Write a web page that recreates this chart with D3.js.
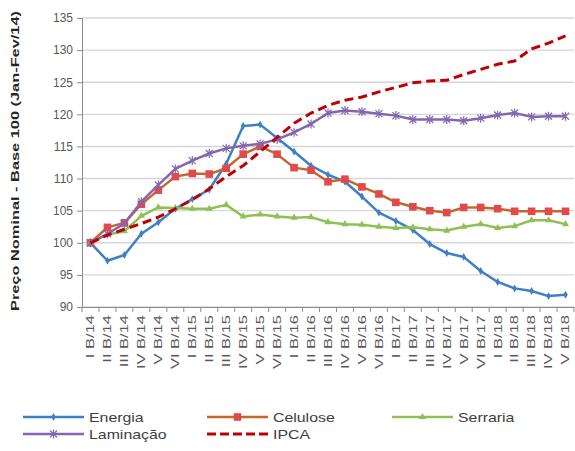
<!DOCTYPE html>
<html>
<head>
<meta charset="utf-8">
<script src="https://cdn.jsdelivr.net/npm/d3@7"></script>
<style>
  body { margin: 0; background: #fff; }
  svg { display: block; font-family: "Liberation Sans", Arial, sans-serif; }
</style>
</head>
<body>
<div id="chart"></div>
<script>
// bimester labels
const labels = ["I B/14","II B/14","III B/14","IV B/14","V B/14","VI B/14",
  "I B/15","II B/15","III B/15","IV B/15","V B/15","VI B/15",
  "I B/16","II B/16","III B/16","IV B/16","V B/16","VI B/16",
  "I B/17","II B/17","III B/17","IV B/17","V B/17","VI B/17",
  "I B/18","II B/18","III B/18","IV B/18","V B/18"];

const energia = [100, 97.2, 98.1, 101.4, 103.2, 105.3, 106.8, 108.3, 112.3, 118.2, 118.4, 116.3, 114.2, 112.0, 110.6,
  109.5, 107.2, 104.7, 103.4, 102.0, 99.8, 98.4, 97.8, 95.6, 93.9, 92.9, 92.5, 91.7, 91.9];
const celulose = [100, 102.4, 103.1, 106.0, 108.2, 110.3, 110.8, 110.7, 111.6, 113.8, 115.0, 113.8, 111.7, 111.3, 109.5,
  109.9, 108.7, 107.6, 106.3, 105.6, 105.0, 104.7, 105.5, 105.5, 105.3, 104.9, 104.9, 104.9, 104.9];
const serraria = [100, 101.3, 101.8, 104.2, 105.5, 105.4, 105.3, 105.3, 105.9, 104.1, 104.4, 104.1, 103.9, 104.0, 103.2,
  102.9, 102.8, 102.5, 102.3, 102.4, 102.1, 101.9, 102.5, 102.9, 102.3, 102.6, 103.5, 103.5, 102.9];
const laminacao = [100, 101.4, 103.0, 106.4, 109.0, 111.5, 112.8, 113.9, 114.7, 115.1, 115.4, 116.1, 117.2, 118.5, 120.2,
  120.6, 120.4, 120.1, 119.8, 119.2, 119.2, 119.2, 119.0, 119.4, 119.9, 120.2, 119.6, 119.7, 119.7];
const ipca = [100, 101.2, 102.1, 103.0, 104.0, 105.3, 106.7, 108.4, 110.3, 112.0, 114.2, 116.4, 118.6, 120.2, 121.4,
  122.2, 122.7, 123.5, 124.2, 124.9, 125.2, 125.3, 126.2, 127.0, 127.8, 128.3, 130.2, 131.1, 132.2];

const yTicks = [90, 95, 100, 105, 110, 115, 120, 125, 130, 135];
const yTitle = "Preço Nominal - Base 100 (Jan-Fev/14)";

const series = [
  {name: "Energia", values: energia, line: "#3f7fc6", marker: "#3f7fc6", sym: "diamond"},
  {name: "Celulose", values: celulose, line: "#c5662b", marker: "#e04a4a", sym: "square"},
  {name: "Serraria", values: serraria, line: "#8dc153", marker: "#8dc153", sym: "triangle"},
  {name: "Laminação", values: laminacao, line: "#8466b0", marker: "#8466b0", sym: "star"},
  {name: "IPCA", values: ipca, line: "#c00000", dash: "9,5", sym: null}
];

const width = 575, height = 451;
const svg = d3.select("#chart").append("svg").attr("width", width).attr("height", height);

const x = d3.scaleBand().domain(labels).range([82, 574]).paddingInner(0).paddingOuter(0);
const y = d3.scaleLinear().domain([90, 135]).range([307, 18]);
const cx = d => x(d) + x.bandwidth() / 2;

// the source picture is a stretched screenshot, so text runs a bit wide
function stretch(sel, k) {
  sel.each(function() {
    const len = this.getComputedTextLength();
    d3.select(this).attr("textLength", len * k).attr("lengthAdjust", "spacingAndGlyphs");
  });
}

// gridlines
svg.append("g").selectAll("line").data(yTicks).enter().append("line")
  .attr("x1", 82).attr("x2", 574)
  .attr("y1", d => y(d)).attr("y2", d => y(d))
  .style("stroke", "#d6d6d6").style("stroke-width", 1.4);

// y axis
const yAxis = svg.append("g").attr("transform", "translate(82,0)")
  .call(d3.axisLeft(y).tickValues(yTicks).tickSize(5).tickPadding(4));
yAxis.select(".domain").style("stroke", "#8c8c8c");
yAxis.selectAll(".tick line").style("stroke", "#8c8c8c");
yAxis.selectAll("text").style("font-size", "12px").style("fill", "#595959");

// x axis (ticks between categories)
const xAxis = svg.append("g").attr("transform", "translate(0,307)")
  .call(d3.axisBottom(x).tickSize(0).tickPadding(0));
xAxis.select(".domain").style("stroke", "#8c8c8c");
xAxis.selectAll("text")
  .attr("transform", "rotate(-90)")
  .attr("x", -8).attr("y", 0).attr("dy", "0.35em")
  .style("text-anchor", "end")
  .style("font-size", "11px").style("fill", "#595959")
  .call(stretch, 1.5);
xAxis.append("g").selectAll("line").data(labels.concat(["end"])).enter().append("line")
  .attr("x1", (d, i) => i < labels.length ? x(d) : x(labels[labels.length - 1]) + x.bandwidth())
  .attr("x2", (d, i) => i < labels.length ? x(d) : x(labels[labels.length - 1]) + x.bandwidth())
  .attr("y1", 0).attr("y2", 5)
  .style("stroke", "#8c8c8c");

// y title
svg.append("text")
  .attr("transform", "translate(19,161) rotate(-90)")
  .style("text-anchor", "middle")
  .style("font-size", "11.5px").style("font-weight", "bold").style("fill", "#262626")
  .text(yTitle)
  .attr("textLength", 300).attr("lengthAdjust", "spacingAndGlyphs");

function drawMarker(g, sym, color, px, py) {
  if (sym === "square") {
    g.append("rect").attr("x", px - 3.8).attr("y", py - 3.8).attr("width", 7.6).attr("height", 7.6)
      .style("fill", color);
  } else if (sym === "diamond") {
    g.append("path").attr("d", d3.symbol(d3.symbolDiamond, 18)())
      .attr("transform", `translate(${px},${py})`).style("fill", color);
  } else if (sym === "triangle") {
    g.append("path").attr("d", d3.symbol(d3.symbolTriangle, 22)())
      .attr("transform", `translate(${px},${py})`).style("fill", color);
  } else if (sym === "star") {
    const s = 3.5;
    g.append("path")
      .attr("d", `M${px - s},${py - s}L${px + s},${py + s}M${px - s},${py + s}L${px + s},${py - s}M${px},${py - s - 1}L${px},${py + s + 1}`)
      .style("stroke", color).style("stroke-width", 1.2).style("fill", "none");
  }
}

const line = d3.line().x((d, i) => cx(labels[i])).y(d => y(d));

series.forEach(s => {
  const g = svg.append("g");
  g.append("path").datum(s.values)
    .attr("d", line)
    .style("fill", "none")
    .style("stroke", s.line)
    .style("stroke-width", s.dash ? 3 : 2.5)
    .style("stroke-dasharray", s.dash || null)
    .style("stroke-linejoin", "round");
  if (s.sym) {
    s.values.forEach((v, i) => drawMarker(g, s.sym, s.marker, cx(labels[i]), y(v)));
  }
});

// legend
const legendPos = [
  {x: 23, y: 417}, {x: 207, y: 417}, {x: 392, y: 417},
  {x: 23, y: 434}, {x: 207, y: 434}
];
series.forEach((s, i) => {
  const p = legendPos[i];
  const g = svg.append("g");
  g.append("line").attr("x1", p.x).attr("x2", p.x + 61).attr("y1", p.y).attr("y2", p.y)
    .style("stroke", s.line).style("stroke-width", s.dash ? 3 : 2.5)
    .style("stroke-dasharray", s.dash ? "9,4" : null);
  if (s.sym) drawMarker(g, s.sym, s.marker, p.x + 30.5, p.y);
  g.append("text").attr("x", p.x + 66).attr("y", p.y).attr("dy", "0.35em")
    .style("font-size", "13px").style("fill", "#404040")
    .text(s.name)
    .call(stretch, 1.22);
});
</script>
</body>
</html>
